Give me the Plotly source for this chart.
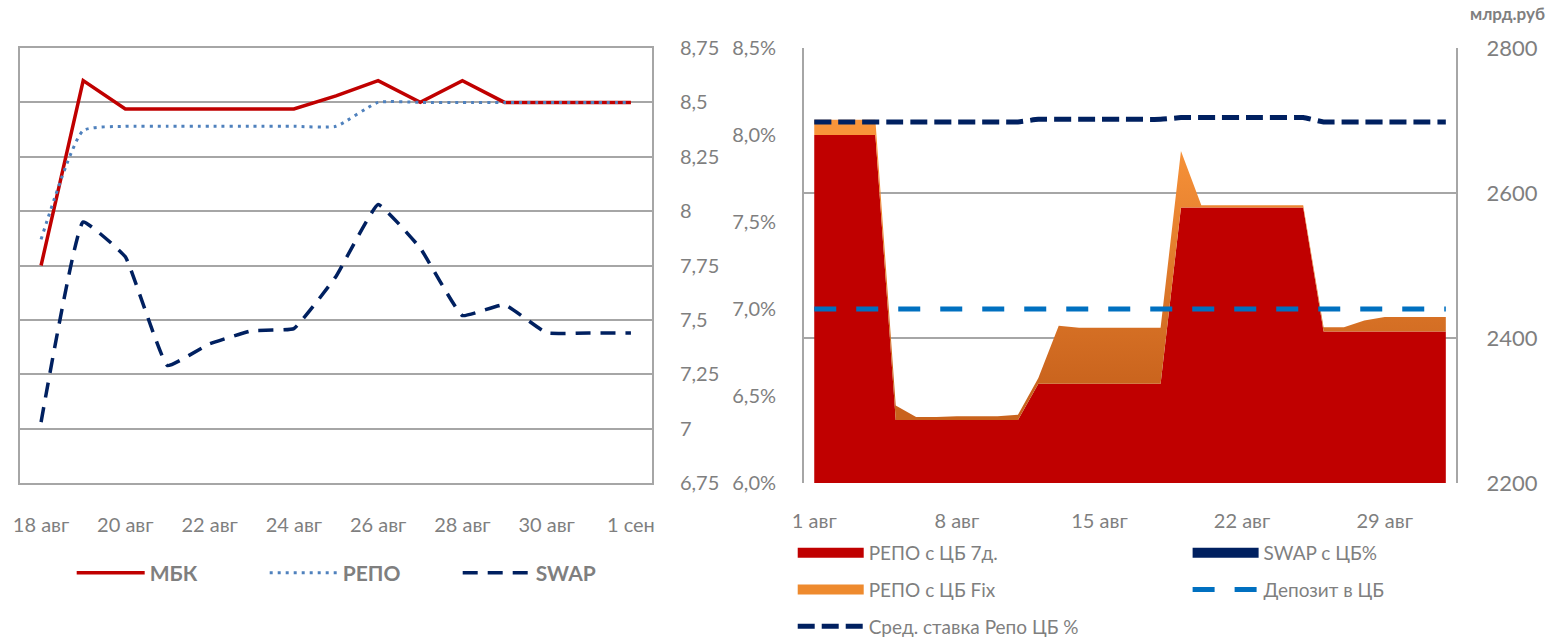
import plotly.graph_objects as go

# ---------------- Left chart data ----------------
left_dates = ["2017-08-18", "2017-08-19", "2017-08-20", "2017-08-21", "2017-08-22",
              "2017-08-23", "2017-08-24", "2017-08-25", "2017-08-26", "2017-08-27",
              "2017-08-28", "2017-08-29", "2017-08-30", "2017-08-31", "2017-09-01"]
mbk = [7.75, 8.60, 8.47, 8.47, 8.47, 8.47, 8.47, 8.53, 8.60, 8.50, 8.60, 8.50, 8.50, 8.50, 8.50]
repo = [7.87, 8.37, 8.39, 8.39, 8.39, 8.39, 8.39, 8.39, 8.50, 8.50, 8.50, 8.50, 8.50, 8.50, 8.50]
swap = [7.03, 7.95, 7.79, 7.29, 7.39, 7.45, 7.46, 7.70, 8.03, 7.83, 7.52, 7.57, 7.44, 7.44, 7.44]

left_tick_dates = ["2017-08-18", "2017-08-20", "2017-08-22", "2017-08-24",
                   "2017-08-26", "2017-08-28", "2017-08-30", "2017-09-01"]
left_tick_text = ["18 авг", "20 авг", "22 авг", "24 авг", "26 авг", "28 авг", "30 авг", "1 сен"]
left_y_ticks = [6.75, 7.0, 7.25, 7.5, 7.75, 8.0, 8.25, 8.5, 8.75]
left_y_text = ["6,75", "7", "7,25", "7,5", "7,75", "8", "8,25", "8,5", "8,75"]

# ---------------- Right chart data ----------------
right_dates = ["2017-08-01", "2017-08-02", "2017-08-03", "2017-08-04", "2017-08-05",
               "2017-08-06", "2017-08-07", "2017-08-08", "2017-08-09", "2017-08-10",
               "2017-08-11", "2017-08-12", "2017-08-13", "2017-08-14", "2017-08-15",
               "2017-08-16", "2017-08-17", "2017-08-18", "2017-08-19", "2017-08-20",
               "2017-08-21", "2017-08-22", "2017-08-23", "2017-08-24", "2017-08-25",
               "2017-08-26", "2017-08-27", "2017-08-28", "2017-08-29", "2017-08-30",
               "2017-08-31", "2017-09-01"]
repo_7d = [2680, 2680, 2680, 2680, 2287, 2287, 2287, 2287, 2287, 2287,
           2287, 2337, 2337, 2337, 2337, 2337, 2337, 2337, 2580, 2580,
           2580, 2580, 2580, 2580, 2580, 2409, 2409, 2409, 2409, 2409,
           2409, 2409]
repo_fix = [21, 21, 21, 21, 20, 4, 4, 5, 5, 5,
            7, 8, 80, 77, 77, 77, 77, 77, 78, 3,
            3, 3, 3, 3, 3, 6, 6, 15, 20, 20,
            20, 20]
swap_cb = [0, 0, 0, 0, 0, 0, 0, 0, 0, 0, 0, 0, 0, 0, 0, 0,
           0, 0, 0, 0, 0, 0, 0, 0, 0, 0, 0, 0, 0, 0, 0, 0]
avg_repo_rate = [8.075, 8.075, 8.075, 8.075, 8.075, 8.075, 8.075, 8.075, 8.075, 8.075,
                 8.075, 8.09, 8.09, 8.09, 8.09, 8.09, 8.09, 8.09, 8.10, 8.10,
                 8.10, 8.10, 8.10, 8.10, 8.10, 8.075, 8.075, 8.075, 8.075, 8.075,
                 8.075, 8.075]
deposit_rate = [7.0, 7.0, 7.0, 7.0, 7.0, 7.0, 7.0, 7.0, 7.0, 7.0, 7.0, 7.0, 7.0, 7.0, 7.0, 7.0,
                7.0, 7.0, 7.0, 7.0, 7.0, 7.0, 7.0, 7.0, 7.0, 7.0, 7.0, 7.0, 7.0, 7.0, 7.0, 7.0]

right_tick_dates = ["2017-08-01", "2017-08-08", "2017-08-15", "2017-08-22", "2017-08-29"]
right_tick_text = ["1 авг", "8 авг", "15 авг", "22 авг", "29 авг"]
pct_ticks = [6.0, 6.5, 7.0, 7.5, 8.0, 8.5]
pct_text = ["6,0%", "6,5%", "7,0%", "7,5%", "8,0%", "8,5%"]
vol_ticks = [2200, 2400, 2600, 2800]
vol_text = ["2200", "2400", "2600", "2800"]

FONT = "Lato, 'Open Sans', sans-serif"
GREY = "#7F7F7F"
GRID = "#A6A6A6"

fig = go.Figure()

# ----- left chart lines -----
fig.add_trace(go.Scatter(x=left_dates, y=mbk, name="МБК", mode="lines",
                         line=dict(color="#C00000", width=3.5),
                         xaxis="x", yaxis="y", legend="legend", legendrank=1))
fig.add_trace(go.Scatter(x=left_dates, y=repo, name="РЕПО", mode="lines",
                         line=dict(color="#4F81BD", width=3, dash="3px,5px",
                                   shape="spline", smoothing=0.5),
                         xaxis="x", yaxis="y", legend="legend", legendrank=2))
fig.add_trace(go.Scatter(x=left_dates, y=swap, name="SWAP", mode="lines",
                         line=dict(color="#002060", width=3.5, dash="15px,10px",
                                   shape="spline", smoothing=0.3),
                         xaxis="x", yaxis="y", legend="legend", legendrank=3))

# ----- right chart areas (volumes) -----
fig.add_trace(go.Scatter(x=right_dates, y=repo_7d, name="РЕПО с ЦБ 7д.", mode="none",
                         stackgroup="vol", fillcolor="#C00000", showlegend=False,
                         xaxis="x2", yaxis="y3"))
fig.add_trace(go.Scatter(x=right_dates, y=repo_fix, name="РЕПО с ЦБ Fix", mode="none",
                         stackgroup="vol",
                         fillgradient=dict(type="vertical",
                                           colorscale=[[0, "#C9631D"], [1, "#F9943A"]],
                                           start=2330, stop=2680),
                         showlegend=False, xaxis="x2", yaxis="y3"))
fig.add_trace(go.Scatter(x=right_dates, y=swap_cb, name="SWAP с ЦБ%", mode="lines",
                         line=dict(color="#002060", width=15),
                         xaxis="x2", yaxis="y3", legend="legend3",
                         legendgroup="s", legendrank=1))

# legend glyphs for the area series
fig.add_trace(go.Scatter(x=[None], y=[None], name="РЕПО с ЦБ 7д.", mode="lines",
                         line=dict(color="#C00000", width=15),
                         xaxis="x2", yaxis="y3", legend="legend2",
                         legendgroup="a", legendrank=1))
fig.add_trace(go.Scatter(x=[None], y=[None], name="РЕПО с ЦБ Fix", mode="lines",
                         line=dict(color="#EE8A2E", width=15),
                         xaxis="x2", yaxis="y3", legend="legend2",
                         legendgroup="b", legendrank=2))

# ----- right chart rate lines -----
fig.add_trace(go.Scatter(x=right_dates, y=avg_repo_rate, name="Сред. ставка Репо ЦБ %",
                         mode="lines",
                         line=dict(color="#002060", width=5, dash="17px,7px",
                                   shape="spline", smoothing=0.5),
                         xaxis="x2", yaxis="y4", legend="legend2",
                         legendgroup="c", legendrank=3))
fig.add_trace(go.Scatter(x=right_dates, y=deposit_rate, name="Депозит в ЦБ", mode="lines",
                         line=dict(color="#0070C0", width=5, dash="22px,20px"),
                         xaxis="x2", yaxis="y4", legend="legend3",
                         legendgroup="d", legendrank=2))

tickfont = dict(family=FONT, size=20, color=GREY)

fig.update_layout(
    width=1552, height=641,
    margin=dict(l=20, r=96, t=48, b=158, autoexpand=False),
    paper_bgcolor="white", plot_bgcolor="white",
    font=dict(family=FONT, color=GREY),
    xaxis=dict(domain=[0, 0.4401], type="date",
               range=["2017-08-17 12:00", "2017-09-01 12:00"],
               tickvals=left_tick_dates, ticktext=left_tick_text,
               tickfont=tickfont, ticks="outside", ticklen=23,
               tickcolor="rgba(0,0,0,0)",
               showgrid=False, showline=True, mirror=True,
               linecolor=GRID, linewidth=2, anchor="y", zeroline=False),
    yaxis=dict(domain=[0, 1], range=[6.75, 8.75], side="right", anchor="x",
               tickvals=left_y_ticks, ticktext=left_y_text, tickfont=tickfont,
               ticks="outside", ticklen=22, tickcolor="rgba(0,0,0,0)",
               showgrid=True, gridcolor=GRID, gridwidth=2,
               showline=True, mirror=True, linecolor=GRID, linewidth=2,
               zeroline=False),
    xaxis2=dict(domain=[0.546, 1], type="date", anchor="y3",
                range=["2017-07-31 12:00", "2017-09-01 12:00"],
                tickvals=right_tick_dates, ticktext=right_tick_text,
                tickfont=tickfont, ticks="outside", ticklen=20,
                tickcolor="rgba(0,0,0,0)",
                showgrid=False, showline=False, zeroline=False),
    yaxis3=dict(domain=[0, 1], range=[2200, 2800], side="right", anchor="x2",
                tickvals=vol_ticks, ticktext=vol_text,
                tickfont=dict(family=FONT, size=22, color=GREY),
                ticks="outside", ticklen=24, tickcolor="rgba(0,0,0,0)",
                showgrid=True, gridcolor=GRID, gridwidth=2,
                showline=True, linecolor=GRID, linewidth=2, zeroline=False),
    yaxis4=dict(range=[6.0, 8.5], side="left", anchor="x2", overlaying="y3",
                tickvals=pct_ticks, ticktext=pct_text, tickfont=tickfont,
                ticks="outside", ticklen=22, tickcolor="rgba(0,0,0,0)",
                showgrid=False, showline=True, linecolor=GRID, linewidth=2,
                zeroline=False),
    legend=dict(orientation="h", x=0.036, y=-0.207, xanchor="left", yanchor="middle",
                traceorder="normal",
                font=dict(family=FONT, size=21, color=GREY, weight="bold"),
                itemwidth=68, entrywidth=110, bgcolor="rgba(0,0,0,0)"),
    legend2=dict(orientation="v", x=0.5381, y=-0.117, xanchor="left", yanchor="top",
                 traceorder="grouped",
                 font=dict(family=FONT, size=19, color=GREY),
                 itemwidth=66, tracegroupgap=9, bgcolor="rgba(0,0,0,0)"),
    legend3=dict(orientation="v", x=0.8131, y=-0.117, xanchor="left", yanchor="top",
                 traceorder="grouped",
                 font=dict(family=FONT, size=19, color=GREY),
                 itemwidth=66, tracegroupgap=9, bgcolor="rgba(0,0,0,0)"),
    annotations=[dict(text="<b>млрд.руб</b>", x=1.036, y=1.08, xref="paper", yref="paper",
                      showarrow=False, font=dict(family=FONT, size=17, color=GREY),
                      xanchor="center", yanchor="middle")],
)

fig.write_html("out.html", config={"displayModeBar": False},
               post_script="document.body.style.margin='0px';")
